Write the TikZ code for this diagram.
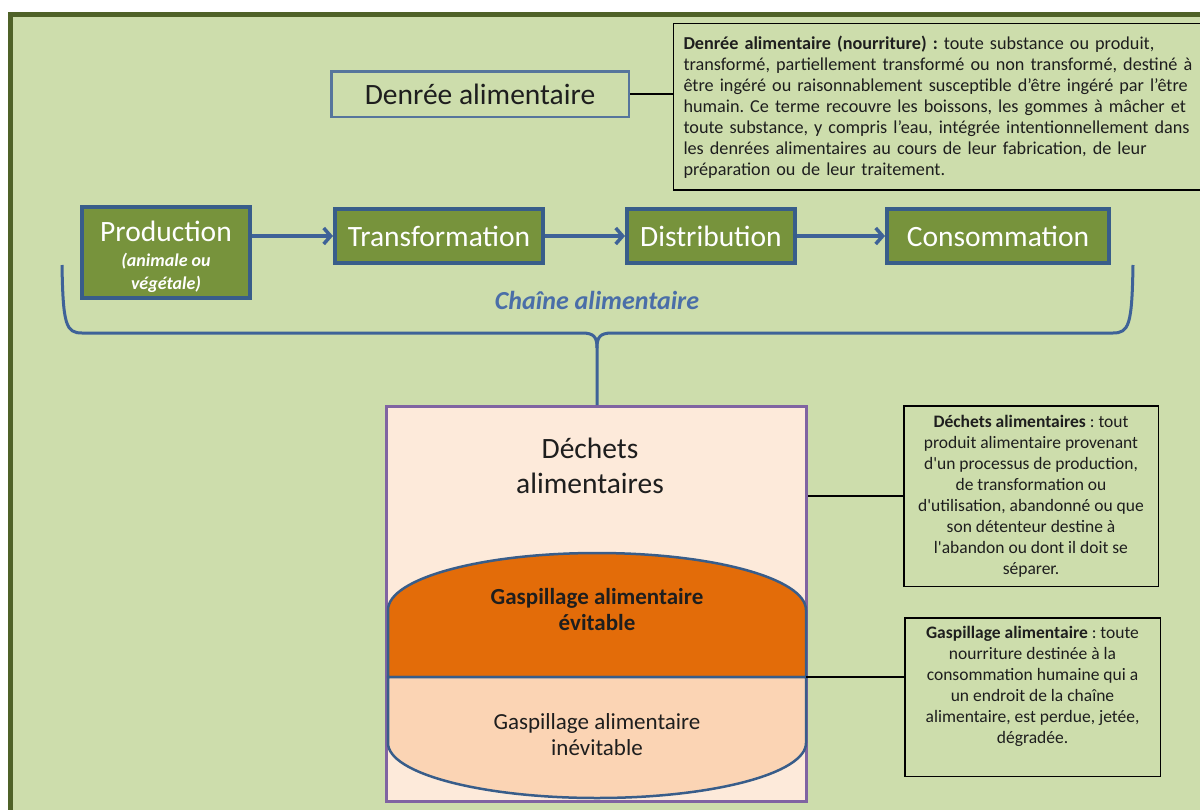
\documentclass[tikz,border=0pt]{standalone}
\usepackage{fontspec}
\setmainfont{Carlito}
\usetikzlibrary{positioning, arrows.meta}
\definecolor{bgGreen}{RGB}{205,221,172}
\definecolor{frameGreen}{RGB}{79,98,40}
\definecolor{oliveFill}{RGB}{119,147,60}
\definecolor{boxBlue}{RGB}{56,93,138}
\definecolor{arrowBlue}{RGB}{62,98,152}
\definecolor{chainBlue}{RGB}{74,110,168}
\definecolor{purpleLine}{RGB}{128,100,162}
\definecolor{peach}{RGB}{253,234,218}
\definecolor{orangeFill}{RGB}{227,108,9}
\definecolor{lightOrange}{RGB}{251,212,180}
\definecolor{textDark}{RGB}{30,30,30}
\newcommand{\subfont}{\fontsize{18}{23}\selectfont\bfseries\itshape}
\frenchspacing
\tikzset{
  chainbox/.style={rectangle, draw=boxBlue, line width=4pt, fill=oliveFill, text=white, align=center, font=\fontsize{29.5}{33}\selectfont},
  defbox/.style={rectangle, draw=black, line width=1.5pt, text=textDark, font=\fontsize{17.5}{21}\selectfont},
  arrow/.style={-{Straight Barb[length=7pt, width=16pt]}, line width=3.5pt, arrowBlue},
  brace/.style={line width=3pt, arrowBlue},
  link/.style={draw=black, line width=1.5pt},
}

\begin{document}
\begin{tikzpicture}[x=1pt, y=1pt]
  \useasboundingbox (0,0) rectangle (1200,-809);
  \clip (0,0) rectangle (1200,-809);
  \fill[white] (0,0) rectangle (1200,-809);
  \draw[line width=5pt, frameGreen, fill=bgGreen] (10,-14) rectangle (1220,-830);

  % Denree alimentaire
  \node[rectangle, draw=boxBlue!85!white, line width=2.5pt, minimum width=297.5pt, minimum height=45.5pt,
    text=textDark, font=\fontsize{29.5}{33}\selectfont] (denree) at (480,-94) {Denrée alimentaire};
  \node[defbox, anchor=north west, text width=550pt, align=left, minimum height=166.5pt,
    inner xsep=10pt, font=\fontsize{18.2}{21}\selectfont] (defDenree) at (672.75,-22.75) {%
    \textbf{Denrée alimentaire (nourriture) :} toute substance ou produit,\\
    transformé, partiellement transformé ou non transformé, destiné à\\
    être ingéré ou raisonnablement susceptible d’être ingéré par l’être\\
    humain. Ce terme recouvre les boissons, les gommes à mâcher et\\
    toute substance, y compris l’eau, intégrée intentionnellement dans\\
    les denrées alimentaires au cours de leur fabrication, de leur\\
    préparation ou de leur traitement.};
  \draw[link] (denree.east) -- (denree.east -| defDenree.west);

  % Chaine alimentaire
  \node[chainbox, minimum width=168pt, minimum height=91pt] (prod) at (166,-252.5)
    {\rule{0pt}{30pt}Production\\[-8pt]{\subfont (animale ou}\\[-10pt]{\subfont végétale)}};
  \node[chainbox, minimum width=208pt, minimum height=54pt, right=81pt of prod.north east,
    anchor=north west, yshift=-2pt] (trans) {Transformation};
  \node[chainbox, minimum width=168pt, minimum height=54pt, right=80pt of trans] (dist) {Distribution};
  \node[chainbox, minimum width=222pt, minimum height=54pt, right=88pt of dist] (cons) {Consommation};

  \draw[arrow] (prod.east |- trans.west) -- (trans.west);
  \draw[arrow] (trans) -- (dist);
  \draw[arrow] (dist) -- (cons);

  \node[text=chainBlue, font=\fontsize{26}{28}\selectfont\bfseries\itshape] (chain) at (597,-300) {Chaîne alimentaire};

  % Dechets alimentaires
  \node[rectangle, draw=purpleLine, line width=3pt, fill=peach, minimum width=420pt,
    minimum height=395pt] (dechets) at (596.5,-604) {};
  \node[align=center, text=textDark, font=\fontsize{29.5}{35}\selectfont] (dechetsTxt) at (590,-466) {Déchets\\alimentaires};

  \coordinate (braceL) at (62,-265);
  \coordinate (braceR) at (1133,-265);
  \coordinate (braceTip) at (597,-348);
  \draw[brace] (braceL) .. controls (63,-325) and (66,-333) .. (82,-333) -- (582,-333)
    .. controls (594,-333) and (597,-337) .. (braceTip) -- (braceTip |- dechets.north);
  \draw[brace] (braceR) .. controls (1132,-325) and (1129,-333) .. (1113,-333) -- (612,-333)
    .. controls (600,-333) and (597,-337) .. (braceTip);

  % Gaspillage
  \draw[boxBlue, line width=2.5pt, fill=orangeFill] (388,-610) arc[start angle=180, end angle=0,
    x radius=209, y radius=57] -- (806,-677) -- (388,-677) -- cycle;
  \draw[boxBlue, line width=2.5pt, fill=lightOrange] (388,-677) -- (388,-743) arc[start angle=180,
    end angle=360, x radius=209, y radius=55] -- (806,-677) -- cycle;
  \coordinate (gaspMid) at (806,-677);
  \node[align=center, text=textDark, font=\fontsize{23}{26}\selectfont\bfseries] (evitable) at (597,-610)
    {Gaspillage alimentaire\\évitable};
  \node[align=center, text=textDark, font=\fontsize{23}{26}\selectfont] (inevitable) at (597,-735)
    {Gaspillage alimentaire\\inévitable};

  % Definitions
  \node[defbox, align=center, minimum width=254.5pt, minimum height=180.5pt] (defDechets) at (1031,-496) {%
    \textbf{Déchets alimentaires} : tout\\
    produit alimentaire provenant\\
    d\textquotesingle un processus de production,\\
    de transformation ou\\
    d\textquotesingle utilisation, abandonné ou que\\
    son détenteur destine à\\
    l\textquotesingle abandon ou dont il doit se\\
    séparer.};
  \draw[link] (defDechets.west -| dechets.east) -- (defDechets.west);

  \node[defbox, minimum width=255.5pt, minimum height=158.5pt] (defGasp) at (1032.5,-697) {};
  \node[align=center, text=textDark, font=\fontsize{17.5}{21}\selectfont] (defGaspTxt) at (1032.5,-686) {%
    \textbf{Gaspillage alimentaire} : toute\\
    nourriture destinée à la\\
    consommation humaine qui a\\
    un endroit de la chaîne\\
    alimentaire, est perdue, jetée,\\
    dégradée.};
  \draw[link] (gaspMid) -- (gaspMid -| defGasp.west);
\end{tikzpicture}
\end{document}
